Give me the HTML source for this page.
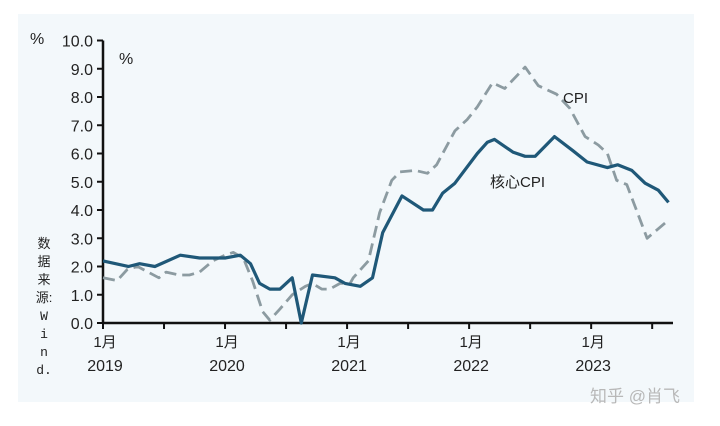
<!DOCTYPE html>
<html><head><meta charset="utf-8"><style>
html,body{margin:0;padding:0;background:#fff;}
svg{display:block;font-family:"Liberation Sans","Noto Sans CJK SC",sans-serif;}
</style></head><body>
<svg id="chart" width="720" height="426" viewBox="0 0 720 426">
<rect x="18" y="14" width="676" height="388" fill="#f3f8fb"/>
<g id="axes"></g>
<g id="series"></g>
<text x="30" y="44" font-size="16" fill="#222">%</text>
<text x="119" y="64" font-size="16" fill="#222">%</text>
<text x="563" y="103" font-size="15" fill="#222">CPI</text>
<text x="490" y="187" font-size="15" fill="#222">核心CPI</text>
<g font-size="13" fill="#222" text-anchor="middle">
<text x="44" y="248">数</text><text x="44" y="266">据</text><text x="44" y="284">来</text><text x="44" y="302">源:</text>
<text x="44" y="320" font-family="Liberation Mono,monospace">W</text><text x="44" y="338" font-family="Liberation Mono,monospace">i</text>
<text x="44" y="356" font-family="Liberation Mono,monospace">n</text><text x="44" y="374" font-family="Liberation Mono,monospace">d.</text>
</g>
<text x="590" y="402" font-size="17" fill="#b8b8b8">知乎 @肖飞</text>
<script>
const yTicks=[0,1,2,3,4,5,6,7,8,9,10];
const xYears=["2019","2020","2021","2022","2023"];
const coreMonths=[0,2.5,3.6,5.1,7.6,9.5,12,13.5,14.5,15.4,16.4,17.4,18.6,19.5,20.6,22.8,23.8,25.3,26.5,27.5,29.4,31.5,32.4,33.4,34.6,36.8,37.8,38.5,40.3,41.5,42.5,44.4,46.2,47.6,49.6,50.6,52,53.3,54.6,55.6];
const coreValues=[2.2,2.0,2.1,2.0,2.4,2.3,2.3,2.4,2.1,1.4,1.2,1.2,1.6,0,1.7,1.6,1.4,1.3,1.6,3.2,4.5,4.0,4.0,4.6,4.95,6.0,6.4,6.5,6.05,5.9,5.9,6.6,6.1,5.7,5.5,5.6,5.4,4.95,4.7,4.27];
const cpiMonths=[0,1.4,2.4,3.4,5.5,6.2,7.5,8.5,9.5,10.8,12,12.8,13.8,14.7,15.7,16.4,17.4,18.6,19.9,20.6,21.5,22.3,23.3,24.3,24.6,26.1,27.2,28.4,29.2,30.7,31.9,32.8,34.6,35.8,36.8,38.3,39.5,41.5,42.8,44.6,45.9,47.4,48.7,49.6,50.5,51.5,53.5,55.3,55.6];
const cpiValues=[1.6,1.5,1.9,2.0,1.6,1.8,1.7,1.7,1.8,2.2,2.4,2.5,2.3,1.5,0.4,0.1,0.5,1.0,1.3,1.4,1.2,1.2,1.4,1.4,1.6,2.2,3.9,5.05,5.35,5.4,5.3,5.6,6.8,7.2,7.65,8.5,8.3,9.06,8.4,8.1,7.6,6.6,6.3,6.0,5.05,4.9,3.0,3.55,3.7];
const NS="http://www.w3.org/2000/svg";
const x0=103,pxPerMonth=10.17,y0=323,pxPerUnit=28.25;
function xs(m){return x0+m*pxPerMonth;}
function ys(v){return y0-v*pxPerUnit;}
function mk(tag,attrs,parent){const e=document.createElementNS(NS,tag);for(const k in attrs)e.setAttribute(k,attrs[k]);parent.appendChild(e);return e;}
const ax=document.getElementById('axes');
const yl=mk('line',{x1:x0,y1:ys(10),x2:x0,y2:y0,stroke:'#111','stroke-width':2.5},ax);


const xl=mk('line',{x1:x0,y1:y0,x2:673,y2:y0,stroke:'#111','stroke-width':2.5},ax);


yTicks.forEach(v=>{
 const t=mk('line',{x1:x0-6,y1:ys(v),x2:x0,y2:ys(v),stroke:'#111','stroke-width':2},ax);
 
 
 const l=mk('text',{x:x0-10,y:ys(v)+6,'font-size':16,'text-anchor':'end',fill:'#222'},ax);
 l.textContent=v.toFixed(1);
 
 
});
for(let m=0;m<=54;m+=6){
 const t=mk('line',{x1:xs(m),y1:y0,x2:xs(m),y2:y0+6,stroke:'#111','stroke-width':2},ax);
 
 
}
xYears.forEach((yr,i)=>{
 const l1=mk('text',{x:xs(i*12)+2,y:347,'font-size':15,'text-anchor':'middle',fill:'#222'},ax);
 l1.textContent='1月';
 
 
 const l2=mk('text',{x:xs(i*12)+2,y:371,'font-size':16,'text-anchor':'middle',fill:'#222'},ax);
 l2.textContent=yr;
 
 
});
const sg=document.getElementById('series');
function pts(ms,vs){return ms.map((m,i)=>xs(m).toFixed(1)+','+ys(vs[i]).toFixed(1)).join(' ');}
const cpi=mk('polyline',{points:pts(cpiMonths,cpiValues),fill:'none',stroke:'#8c9ba1','stroke-width':2.8,'stroke-dasharray':'12,6','stroke-linejoin':'round'},sg);


const core=mk('polyline',{points:pts(coreMonths,coreValues),fill:'none',stroke:'#1f5878','stroke-width':3.2,'stroke-linejoin':'round'},sg);


</script>
</svg>
</body></html>
